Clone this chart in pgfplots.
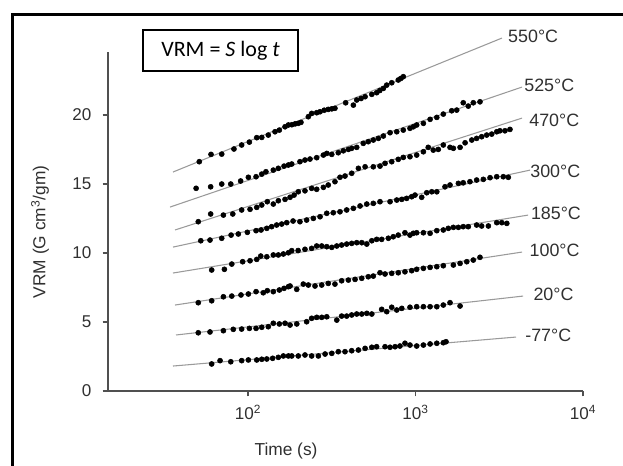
\documentclass[border=0pt]{standalone}
\usepackage{fontspec}
\setmainfont{Liberation Sans}
\newfontfamily\calibri{Carlito}
\usepackage{pgfplots}
\pgfplotsset{compat=1.18}
\definecolor{axgray}{HTML}{505050}
\definecolor{fitgray}{HTML}{9A9A9A}
\definecolor{txtgray}{HTML}{303030}
\begin{document}
\begin{tikzpicture}[x=1pt,y=1pt]
\begin{axis}[
  at={(81pt,55.5pt)}, anchor=south west,
  scale only axis, width=356.25pt, height=254.25pt,
  xmin=1.164, xmax=4, ymin=0, ymax=24.57,
  axis lines=left,
  axis line style={-, draw=axgray, line width=1.1pt},
  tick style={draw=axgray, line width=1.1pt},
  tick align=outside, major tick length=4pt,
  xtick={2,3,4},
  xticklabels={10\textsuperscript{2},10\textsuperscript{3},10\textsuperscript{4}},
  ytick={0,5,10,15,20},
  minor tick num=0,
  ticklabel style={font=\fontsize{12.8}{14}\selectfont, text=txtgray},
  xticklabel style={yshift=-3pt},
  yticklabel style={xshift=-5pt},
  /pgf/number format/assume math mode=true,
  clip=false,
]
% fitted lines (x = log10 of time in s)
\addplot[fitgray, line width=0.8pt, no marks] coordinates {(1.552,15.87) (3.516,25.58)};
\addplot[fitgray, line width=0.8pt, no marks] coordinates {(1.534,13.33) (3.636,22.03)};
\addplot[fitgray, line width=0.8pt, no marks] coordinates {(1.564,11.67) (3.636,19.78)};
\addplot[fitgray, line width=0.8pt, no marks] coordinates {(1.552,10.43) (3.684,16.01)};
\addplot[fitgray, line width=0.8pt, no marks] coordinates {(1.552,8.55) (3.672,12.75)};
\addplot[fitgray, line width=0.8pt, no marks] coordinates {(1.564,6.23) (3.636,10.07)};
\addplot[fitgray, line width=0.8pt, no marks] coordinates {(1.570,4.06) (3.642,6.88)};
\addplot[fitgray, line width=0.8pt, no marks] coordinates {(1.552,1.81) (3.600,3.91)};
% 550 C
\addplot[only marks, mark=*, mark size=1.9pt, black] coordinates {
(1.709,16.62) (1.779,17.15) (1.843,17.17) (1.916,17.54) (1.962,17.83) (2.008,18.04) (2.052,18.36) (2.082,18.38) (2.121,18.55) (2.161,18.79) (2.187,18.91) (2.221,19.15) (2.241,19.28) (2.262,19.30) (2.281,19.36) (2.300,19.40) (2.316,19.47) (2.360,19.88) (2.380,20.12) (2.410,20.17) (2.430,20.24) (2.455,20.35) (2.479,20.41) (2.500,20.45) (2.519,20.49) (2.583,20.89) (2.629,20.72) (2.649,21.09) (2.675,21.20) (2.699,21.33) (2.739,21.50) (2.768,21.62) (2.787,21.78) (2.808,21.93) (2.828,22.17) (2.858,22.34) (2.897,22.54) (2.912,22.65) (2.927,22.78)};
% 525 C
\addplot[only marks, mark=*, mark size=1.9pt, black] coordinates {
(1.690,14.69) (1.777,14.80) (1.843,15.00) (1.897,15.00) (1.956,15.22) (2.002,15.49) (2.048,15.53) (2.082,15.72) (2.107,15.89) (2.151,16.01) (2.181,16.14) (2.215,16.30) (2.241,16.38) (2.261,16.45) (2.310,16.62) (2.340,16.74) (2.370,16.81) (2.410,16.91) (2.450,17.10) (2.470,17.22) (2.500,17.15) (2.539,17.27) (2.569,17.41) (2.599,17.51) (2.619,17.59) (2.649,17.66) (2.688,17.95) (2.718,18.07) (2.748,18.19) (2.778,18.31) (2.808,18.48) (2.848,18.72) (2.888,18.79) (2.927,18.91) (2.967,19.04) (2.987,19.15) (3.007,19.28) (3.047,19.40) (3.087,19.69) (3.127,19.83) (3.166,20.07) (3.216,20.31) (3.246,20.36) (3.285,20.89) (3.315,20.65) (3.345,20.89) (3.385,20.96)};
% 470 C
\addplot[only marks, mark=*, mark size=1.9pt, black] coordinates {
(1.703,12.27) (1.777,12.83) (1.853,12.75) (1.909,12.83) (1.962,13.12) (2.012,13.17) (2.052,13.31) (2.082,13.48) (2.115,13.72) (2.151,13.55) (2.181,13.79) (2.221,13.89) (2.251,14.04) (2.275,14.20) (2.300,14.44) (2.340,14.51) (2.380,14.69) (2.410,14.62) (2.450,14.76) (2.479,14.93) (2.519,15.17) (2.549,15.49) (2.579,15.58) (2.619,15.78) (2.659,16.14) (2.699,16.25) (2.748,16.25) (2.788,16.30) (2.818,16.50) (2.858,16.62) (2.897,16.79) (2.927,16.93) (2.967,16.98) (3.007,17.10) (3.047,17.34) (3.076,17.66) (3.106,17.46) (3.136,17.51) (3.166,17.83) (3.206,17.66) (3.226,17.59) (3.266,17.66) (3.296,17.99) (3.336,18.19) (3.365,18.31) (3.395,18.43) (3.425,18.55) (3.455,18.62) (3.485,18.79) (3.504,18.86) (3.534,18.86) (3.564,18.96)};
% 300 C
\addplot[only marks, mark=*, mark size=1.9pt, black] coordinates {
(1.718,10.89) (1.773,10.94) (1.843,11.07) (1.899,11.30) (1.942,11.38) (1.996,11.50) (2.048,11.62) (2.078,11.67) (2.112,11.79) (2.141,11.91) (2.171,12.03) (2.201,12.10) (2.231,12.20) (2.269,12.32) (2.310,12.27) (2.350,12.39) (2.390,12.51) (2.430,12.63) (2.470,12.88) (2.509,12.92) (2.549,12.99) (2.589,13.12) (2.629,13.24) (2.669,13.41) (2.709,13.55) (2.748,13.60) (2.788,13.72) (2.848,13.72) (2.888,13.84) (2.918,13.89) (2.947,13.96) (2.977,14.08) (2.997,14.20) (3.037,14.04) (3.067,14.37) (3.097,14.44) (3.127,14.44) (3.176,14.80) (3.206,14.93) (3.256,15.05) (3.285,15.09) (3.325,15.17) (3.365,15.29) (3.405,15.34) (3.445,15.46) (3.485,15.53) (3.524,15.53) (3.554,15.49)};
% 185 C
\addplot[only marks, mark=*, mark size=1.9pt, black] coordinates {
(1.783,8.77) (1.859,8.82) (1.903,9.20) (1.968,9.37) (2.012,9.44) (2.052,9.54) (2.076,9.78) (2.112,9.73) (2.151,9.86) (2.181,9.86) (2.211,9.93) (2.241,10.02) (2.261,10.17) (2.299,10.18) (2.340,10.27) (2.380,10.34) (2.410,10.51) (2.440,10.51) (2.470,10.46) (2.500,10.41) (2.530,10.51) (2.559,10.58) (2.589,10.65) (2.619,10.70) (2.649,10.75) (2.679,10.75) (2.709,10.65) (2.739,10.89) (2.768,10.99) (2.798,10.99) (2.838,11.07) (2.867,11.18) (2.897,11.30) (2.937,11.47) (2.967,11.30) (2.987,11.43) (3.007,11.47) (3.047,11.47) (3.087,11.43) (3.127,11.62) (3.166,11.67) (3.196,11.79) (3.226,11.86) (3.256,11.86) (3.285,11.91) (3.315,11.91) (3.365,12.03) (3.395,11.96) (3.435,11.96) (3.485,12.20) (3.515,12.20) (3.545,12.15)};
% 100 C
\addplot[only marks, mark=*, mark size=1.9pt, black] coordinates {
(1.703,6.40) (1.783,6.54) (1.853,6.83) (1.903,6.88) (1.958,6.96) (2.002,7.03) (2.048,7.20) (2.091,7.12) (2.115,7.27) (2.151,7.20) (2.187,7.32) (2.215,7.44) (2.241,7.56) (2.251,7.61) (2.291,7.37) (2.330,7.75) (2.360,7.68) (2.400,7.61) (2.440,7.68) (2.479,7.80) (2.519,7.75) (2.559,7.99) (2.599,8.04) (2.639,8.09) (2.679,8.17) (2.718,8.28) (2.748,8.33) (2.788,8.57) (2.818,8.48) (2.858,8.53) (2.897,8.57) (2.937,8.64) (2.977,8.72) (3.007,8.82) (3.047,8.89) (3.087,8.96) (3.127,9.01) (3.166,9.08) (3.226,9.13) (3.266,9.25) (3.306,9.37) (3.345,9.49) (3.385,9.69)};
% 20 C
\addplot[only marks, mark=*, mark size=1.9pt, black] coordinates {
(1.703,4.22) (1.773,4.28) (1.853,4.37) (1.912,4.47) (1.962,4.49) (2.008,4.54) (2.048,4.54) (2.082,4.62) (2.121,4.66) (2.151,4.91) (2.187,4.86) (2.221,4.91) (2.251,4.78) (2.291,4.86) (2.350,5.02) (2.380,5.27) (2.410,5.34) (2.440,5.34) (2.470,5.38) (2.530,5.14) (2.559,5.43) (2.589,5.43) (2.619,5.51) (2.649,5.58) (2.679,5.58) (2.709,5.63) (2.739,5.58) (2.798,5.92) (2.828,5.75) (2.858,6.07) (2.888,5.87) (2.918,5.99) (2.967,6.07) (3.007,6.11) (3.047,6.11) (3.087,6.11) (3.127,6.11) (3.166,6.23) (3.206,6.40) (3.266,6.16)};
% -77 C
\addplot[only marks, mark=*, mark size=1.9pt, black] coordinates {
(1.783,1.96) (1.833,2.20) (1.897,2.12) (1.962,2.20) (2.002,2.25) (2.052,2.25) (2.082,2.30) (2.112,2.32) (2.147,2.37) (2.181,2.44) (2.211,2.54) (2.241,2.54) (2.261,2.54) (2.300,2.54) (2.340,2.61) (2.380,2.54) (2.420,2.54) (2.460,2.68) (2.500,2.73) (2.539,2.85) (2.579,2.85) (2.619,2.92) (2.659,2.97) (2.699,3.09) (2.739,3.17) (2.768,3.21) (2.818,3.21) (2.848,3.17) (2.878,3.21) (2.907,3.26) (2.937,3.46) (2.967,3.33) (3.007,3.26) (3.047,3.33) (3.087,3.41) (3.127,3.46) (3.166,3.50) (3.182,3.57)};
% labels
\begin{scope}[every node/.style={anchor=west, inner sep=0pt, text=txtgray, font=\fontsize{13.4}{15}\selectfont}]
\node at (axis cs:3.552,25.72) {550°C};
\node at (axis cs:3.648,22.17) {525°C};
\node at (axis cs:3.678,19.64) {470°C};
\node at (axis cs:3.684,15.94) {300°C};
\node at (axis cs:3.688,12.90) {185°C};
\node at (axis cs:3.680,10.17) {100°C};
\node at (axis cs:3.703,7.03) {20°C};
\node at (axis cs:3.654,4.06) {-77°C};
\end{scope}
\end{axis}
\node[rotate=90, text=txtgray, font=\fontsize{13}{15}\selectfont] at (30pt,174.75pt) {VRM (G cm\textsuperscript{3}/gm)};
\node[text=txtgray, font=\fontsize{13}{15}\selectfont] at (214.5pt,10.5pt) {Time (s)};
\node[draw=black, line width=1.5pt, minimum width=116.25pt, minimum height=30.75pt, inner sep=0pt, font=\calibri\fontsize{16.5}{18}\selectfont] at (165.4pt,310.9pt) {VRM = \textit{S} log \textit{t}};
\draw[line width=2.25pt] (9.4pt,-20pt) -- (9.4pt,337.5pt) -- (500pt,337.5pt);
\pgfresetboundingbox
\useasboundingbox (0,0) rectangle (467.25pt,348.75pt);
\end{tikzpicture}
\end{document}
